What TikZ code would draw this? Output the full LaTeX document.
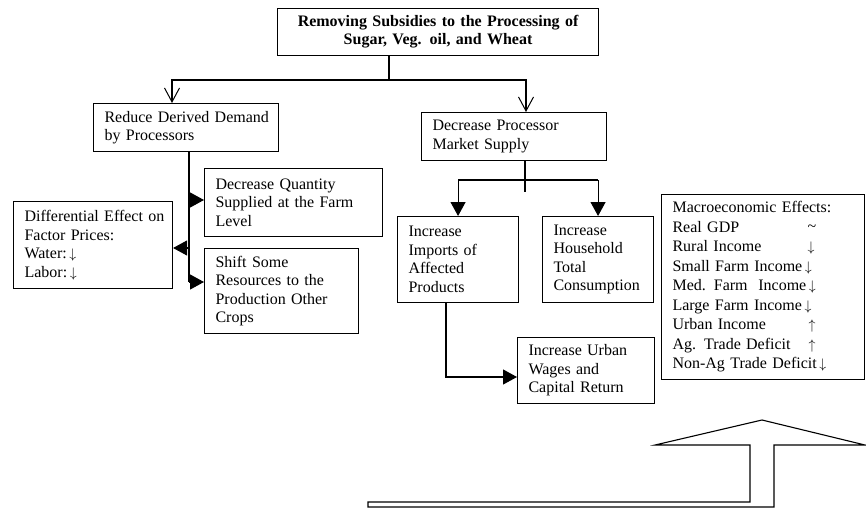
\documentclass[tikz,border=0pt]{standalone}
\usepackage{fontspec}
\setmainfont{Liberation Serif}
\usetikzlibrary{arrows.meta}

% one unbreakable line of box text
\newcommand\bxl[1]{\mbox{#1}}
\newcommand\dn{\scalebox{0.8}{$\downarrow$}}
\newcommand\upa{\scalebox{0.8}{$\uparrow$}}

\begin{document}
\begin{tikzpicture}[x=1pt,y=-1pt,
  line width=1.1pt,
  box/.style={draw, line width=1.1pt, anchor=north west, inner xsep=11pt, inner ysep=0pt,
    align=left, font=\fontsize{16}{18.5}\selectfont},
  openarr/.style={-{Straight Barb[length=14pt,width=15pt,line width=1pt]}},
  fillarr/.style={-{Triangle[length=14pt,width=15pt]}}]

% canvas
\useasboundingbox[fill=white] (0,0) rectangle (866,508);

% boxes
\node[box, align=center, text width=299pt, minimum height=47pt,
  font=\bfseries\fontsize{16}{18}\selectfont] (top) at (277,8)
  {\bxl{Removing Subsidies to the Processing of}\\\bxl{Sugar, Veg. oil, and Wheat}};
\node[box, text width=163pt, minimum height=48pt] (reduce) at (93,103)
  {\bxl{Reduce Derived Demand}\\\bxl{by Processors}};
\node[box, text width=156pt, minimum height=68pt] (qty) at (204,168)
  {\bxl{Decrease Quantity}\\\bxl{Supplied at the Farm}\\\bxl{Level}};
\node[box, text width=132pt, minimum height=85pt] (shift) at (204,248)
  {\bxl{Shift Some}\\\bxl{Resources to the}\\\bxl{Production Other}\\\bxl{Crops}};
\node[box, text width=137pt, minimum height=87pt] (diff) at (13,201)
  {\bxl{Differential Effect on}\\\bxl{Factor Prices:}\\\bxl{Water:\,\dn}\\\bxl{Labor:\,\dn}};
\node[box, text width=163pt, minimum height=48pt] (proc) at (421,112)
  {\bxl{Decrease Processor}\\\bxl{Market Supply}};
\node[box, text width=99pt, minimum height=86pt] (imports) at (397,216)
  {\bxl{Increase}\\\bxl{Imports of}\\\bxl{Affected}\\\bxl{Products}};
\node[box, text width=89pt, minimum height=86pt] (household) at (542,216)
  {\bxl{Increase}\\\bxl{Household}\\\bxl{Total}\\\bxl{Consumption}};
\node[box, text width=115pt, minimum height=66pt] (urban) at (517,337)
  {\bxl{Increase Urban}\\\bxl{Wages and}\\\bxl{Capital Return}};
\node[box, text width=181pt, minimum height=185pt,
  font=\fontsize{16}{19.5}\selectfont] (macro) at (661,194)
  {\bxl{Macroeconomic Effects:}\\
   \bxl{\makebox[135pt][l]{Real GDP}\raisebox{1pt}{\char`\~}}\\
   \bxl{\makebox[135pt][l]{Rural Income}\dn}\\
   \bxl{Small Farm Income\,\dn}\\
   \bxl{Med. Farm \ Income\,\dn}\\
   \bxl{Large Farm Income\,\dn}\\
   \bxl{\makebox[136pt][l]{Urban Income}\upa}\\
   \bxl{\makebox[136pt][l]{Ag. Trade Deficit}\upa}\\
   \bxl{Non-Ag Trade Deficit\,\dn}};

% junction points
\coordinate (split) at (389,80);
\coordinate (jL) at (172,80);
\coordinate (jR) at (526,80);
\coordinate (trunk) at (189,282);
\coordinate (tqty) at (189,200);
\coordinate (tdiff) at (189,248);
\coordinate (pj) at (525,192);
\coordinate (pbar) at (525,180);
\coordinate (uc) at (446,377);

% connectors from the top box
\draw (top.south -| split) -- (split);
\draw[openarr] (split) -- (jL) -- (jL |- reduce.north);
\draw[openarr] (split) -- (jR) -- (jR |- proc.north);

% left branch
\draw (trunk |- reduce.south) -- (trunk);
\draw[fillarr] (tqty) -- (tqty -| qty.west);
\draw[fillarr] (tdiff) -- (tdiff -| diff.east);
\draw[fillarr] (trunk) -- (trunk -| shift.west);

% right branch
\draw (pj |- proc.south) -- (pj);
\draw (pbar -| imports.north) -- (pbar -| household.north);
\draw[fillarr] (pbar -| imports.north) -- (imports.north);
\draw[fillarr] (pbar -| household.north) -- (household.north);
\draw[fillarr] (uc |- imports.south) -- (uc) -- (uc -| urban.west);

% large outlined feedback arrow
\draw[line width=1.1pt, line join=miter]
  (368,502) -- (750,502) -- (750,445) -- (655,445) -- (762,420)
  -- (865,445) -- (774,445) -- (774,507) -- (368,507) -- cycle;
\end{tikzpicture}
\end{document}
